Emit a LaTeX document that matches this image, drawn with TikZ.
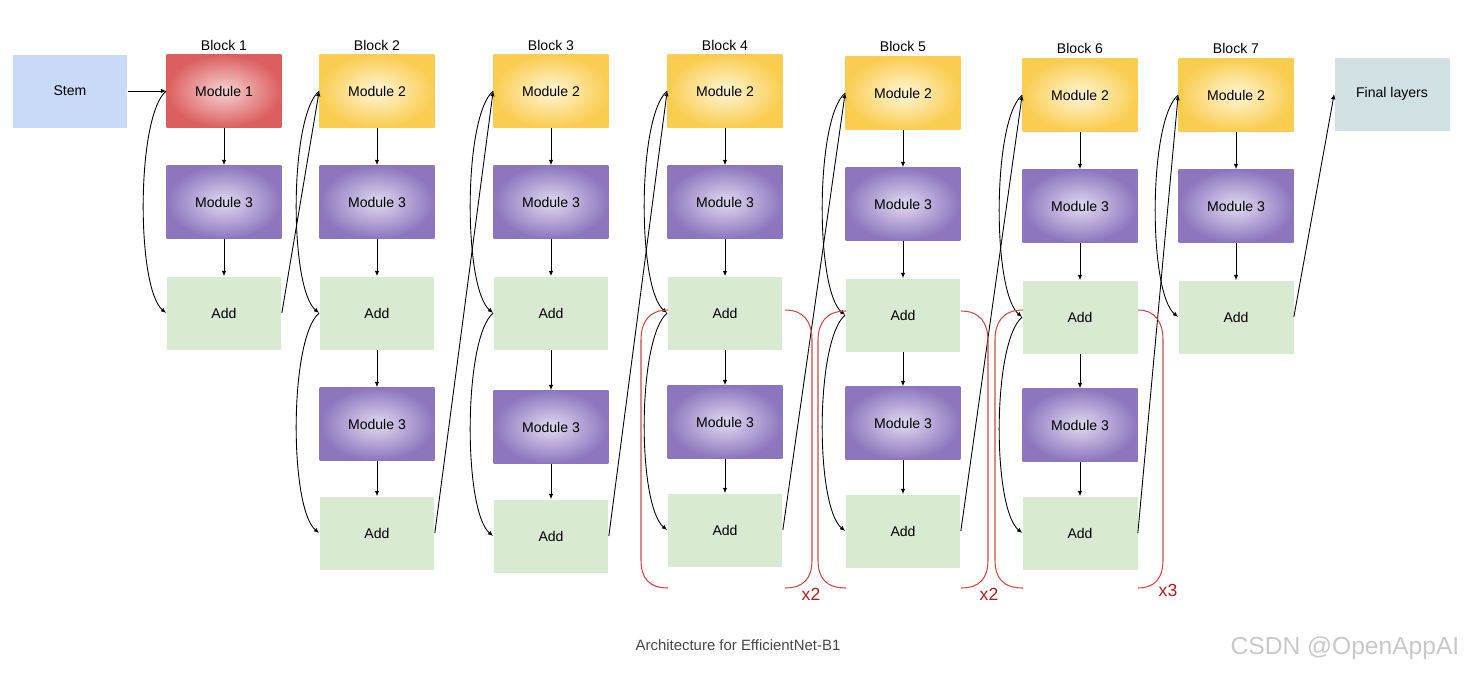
\documentclass[tikz,border=0pt]{standalone}
\usepackage{fontspec}
\setmainfont{Liberation Sans}
\usetikzlibrary{arrows.meta}
\definecolor{addc}{RGB}{217,234,211}
\definecolor{stemc}{RGB}{201,218,248}
\definecolor{finc}{RGB}{208,224,227}
\definecolor{brk}{RGB}{205,70,70}
\definecolor{brkt}{RGB}{170,30,30}
\begin{document}
\begin{tikzpicture}[x=0.02cm,y=-0.02cm,
  box/.style={minimum width=2.3cm,minimum height=1.46cm,inner sep=0pt,font=\fontsize{8}{10}\selectfont},
  mone/.style={box,shading=radial,inner color={rgb,255:red,246;green,210;blue,210},outer color={rgb,255:red,220;green,95;blue,95}},
  mtwo/.style={box,shading=radial,inner color={rgb,255:red,255;green,246;blue,215},outer color={rgb,255:red,250;green,205;blue,80}},
  mthr/.style={box,shading=radial,inner color={rgb,255:red,225;green,218;blue,240},outer color={rgb,255:red,140;green,118;blue,190}},
  add/.style={box,fill=addc},
  ttl/.style={font=\fontsize{8}{10}\selectfont},
  con/.style={line width=0.5pt,-{Latex[length=3pt,width=2.5pt]}},
  skip/.style={con},
  br/.style={draw=brk,line width=0.6pt},
  bl/.style={text=brkt,font=\fontsize{10}{12}\selectfont}]
\useasboundingbox (0,0) rectangle (1471,674);
\node[box,fill=stemc] (stem) at (70,91) {Stem};
\node[box,fill=finc] (fin) at (1392,94) {Final layers};
% block titles
\foreach \x/\y/\n in {224/45/1,377/45/2,551/45/3,725/45/4,903/46/5,1080/48/6,1236/48/7}
  \node[ttl] (h\n) at (\x,\y) {Block \n};
% block 1
\node[mone] (m1) at (224,91) {Module 1};
\node[mthr] (t1) at (224,202) {Module 3};
\node[add] (a1) at (224,313) {Add};
% blocks 2-6
\node[mtwo] (m2) at (377,91) {Module 2};
\node[mthr] (t2) at (377,202) {Module 3};
\node[add] (a2) at (377,313) {Add};
\node[mthr] (u2) at (377,424) {Module 3};
\node[add] (b2) at (377,533) {Add};
\node[mtwo] (m3) at (551,91) {Module 2};
\node[mthr] (t3) at (551,202) {Module 3};
\node[add] (a3) at (551,313) {Add};
\node[mthr] (u3) at (551,427) {Module 3};
\node[add] (b3) at (551,536) {Add};
\node[mtwo] (m4) at (725,91) {Module 2};
\node[mthr] (t4) at (725,202) {Module 3};
\node[add] (a4) at (725,313) {Add};
\node[mthr] (u4) at (725,422) {Module 3};
\node[add] (b4) at (725,530) {Add};
\node[mtwo] (m5) at (903,93) {Module 2};
\node[mthr] (t5) at (903,204) {Module 3};
\node[add] (a5) at (903,315) {Add};
\node[mthr] (u5) at (903,423) {Module 3};
\node[add] (b5) at (903,531) {Add};
\node[mtwo] (m6) at (1080,95) {Module 2};
\node[mthr] (t6) at (1080,206) {Module 3};
\node[add] (a6) at (1080,317) {Add};
\node[mthr] (u6) at (1080,425) {Module 3};
\node[add] (b6) at (1080,533) {Add};
\node[mtwo] (m7) at (1236,95) {Module 2};
\node[mthr] (t7) at (1236,206) {Module 3};
\node[add] (a7) at (1236,317) {Add};
% vertical arrows
\foreach \i in {1,...,7}{
  \draw[con] (m\i) -- (t\i);
  \draw[con] (t\i) -- (a\i);
  \draw[skip] (m\i.west) .. controls +(-30,25) and +(-30,-25) .. (a\i.west);
}
\foreach \i in {2,...,6}{
  \draw[con] (a\i) -- (u\i);
  \draw[con] (u\i) -- (b\i);
  \draw[skip] (a\i.west) .. controls +(-30,25) and +(-30,-25) .. (b\i.west);
}
% inter-block
\draw[con] (stem) -- (m1);
\draw[con] (a1.east) -- (m2.west);
\draw[con] (b2.east) -- (m3.west);
\draw[con] (b3.east) -- (m4.west);
\draw[con] (b4.east) -- (m5.west);
\draw[con] (b5.east) -- (m6.west);
\draw[con] (b6.east) -- (m7.west);
\draw[con] (a7.east) -- (fin.west);
% brackets
\foreach \l/\ll/\r/\rr/\t in {668/641/785/812/310, 846/818/961/988/311, 1023/995/1138/1163/310}{
  \draw[br] (\l,\t) .. controls (\ll+8,\t) and (\ll,\t+12) .. (\ll,\t+30) -- (\ll,560) .. controls (\ll,578) and (\ll+8,588) .. (\l,588);
  \draw[br] (\r,\t) .. controls (\rr-8,\t) and (\rr,\t+12) .. (\rr,\t+30) -- (\rr,560) .. controls (\rr,578) and (\rr-8,588) .. (\r,588);
}
\node[bl] (x1) at (811,594) {x2};
\node[bl] (x2) at (989,594) {x2};
\node[bl] (x3) at (1168,590) {x3};
\node[text={rgb,255:red,70;green,70;blue,70},font=\fontsize{8.5}{10}\selectfont] (cap) at (738,645) {Architecture for EfficientNet-B1};
\node[text={rgb,255:red,200;green,200;blue,200},font=\fontsize{14}{16}\selectfont] (wm) at (1345,648) {CSDN @OpenAppAI};
\end{tikzpicture}
\end{document}
